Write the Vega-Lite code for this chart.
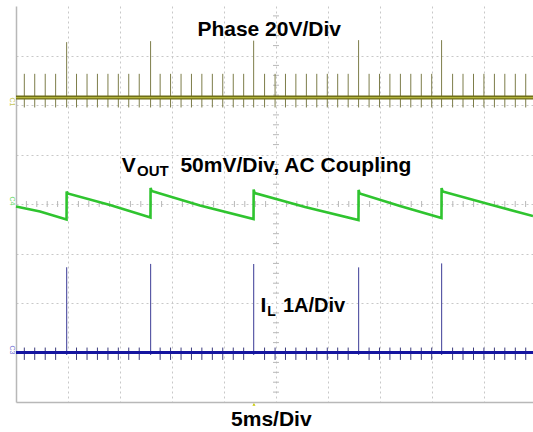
{
  "$schema": "https://vega.github.io/schema/vega-lite/v6.json",
  "width": 517,
  "height": 396,
  "autosize": {"type": "none"},
  "padding": {"left": 16, "top": 6, "right": 0, "bottom": 30},
  "background": "white",
  "config": {"view": {"stroke": null}},
  "datasets": {
    "hticks": [
      {"t":1,"v":4},{"t":2,"v":4},{"t":3,"v":4},{"t":4,"v":4},{"t":6,"v":4},{"t":7,"v":4},{"t":8,"v":4},{"t":9,"v":4},
      {"t":11,"v":4},{"t":12,"v":4},{"t":13,"v":4},{"t":14,"v":4},{"t":16,"v":4},{"t":17,"v":4},{"t":18,"v":4},{"t":19,"v":4},
      {"t":21,"v":4},{"t":22,"v":4},{"t":23,"v":4},{"t":24,"v":4},{"t":26,"v":4},{"t":27,"v":4},{"t":28,"v":4},{"t":29,"v":4},
      {"t":31,"v":4},{"t":32,"v":4},{"t":33,"v":4},{"t":34,"v":4},{"t":36,"v":4},{"t":37,"v":4},{"t":38,"v":4},{"t":39,"v":4},
      {"t":41,"v":4},{"t":42,"v":4},{"t":43,"v":4},{"t":44,"v":4},{"t":46,"v":4},{"t":47,"v":4},{"t":48,"v":4},{"t":49,"v":4}
    ],
    "vticks": [
      {"t":25,"v":0.2},{"t":25,"v":0.4},{"t":25,"v":0.6},{"t":25,"v":0.8},{"t":25,"v":1.2},{"t":25,"v":1.4},{"t":25,"v":1.6},{"t":25,"v":1.8},
      {"t":25,"v":2.2},{"t":25,"v":2.4},{"t":25,"v":2.6},{"t":25,"v":2.8},{"t":25,"v":3.2},{"t":25,"v":3.4},{"t":25,"v":3.6},{"t":25,"v":3.8},
      {"t":25,"v":4.2},{"t":25,"v":4.4},{"t":25,"v":4.6},{"t":25,"v":4.8},{"t":25,"v":5.2},{"t":25,"v":5.4},{"t":25,"v":5.6},{"t":25,"v":5.8},
      {"t":25,"v":6.2},{"t":25,"v":6.4},{"t":25,"v":6.6},{"t":25,"v":6.8},{"t":25,"v":7.2},{"t":25,"v":7.4},{"t":25,"v":7.6},{"t":25,"v":7.8}
    ],
    "spikes": [
      {"t":0.80,"phase_lo":5.95,"phase_hi":6.63,"il_lo":0.85,"il_hi":1.10},
      {"t":1.80,"phase_lo":5.95,"phase_hi":6.63,"il_lo":0.85,"il_hi":1.10},
      {"t":2.81,"phase_lo":5.95,"phase_hi":6.63,"il_lo":0.85,"il_hi":1.10},
      {"t":3.81,"phase_lo":5.95,"phase_hi":6.63,"il_lo":0.85,"il_hi":1.10},
      {"t":5.82,"phase_lo":5.95,"phase_hi":6.63,"il_lo":0.85,"il_hi":1.10},
      {"t":6.83,"phase_lo":5.95,"phase_hi":6.63,"il_lo":0.85,"il_hi":1.10},
      {"t":7.83,"phase_lo":5.95,"phase_hi":6.63,"il_lo":0.85,"il_hi":1.10},
      {"t":8.84,"phase_lo":5.95,"phase_hi":6.63,"il_lo":0.85,"il_hi":1.10},
      {"t":9.84,"phase_lo":5.95,"phase_hi":6.63,"il_lo":0.85,"il_hi":1.10},
      {"t":10.84,"phase_lo":5.95,"phase_hi":6.63,"il_lo":0.85,"il_hi":1.10},
      {"t":11.85,"phase_lo":5.95,"phase_hi":6.63,"il_lo":0.85,"il_hi":1.10},
      {"t":13.86,"phase_lo":5.95,"phase_hi":6.63,"il_lo":0.85,"il_hi":1.10},
      {"t":14.86,"phase_lo":5.95,"phase_hi":6.63,"il_lo":0.85,"il_hi":1.10},
      {"t":15.87,"phase_lo":5.95,"phase_hi":6.63,"il_lo":0.85,"il_hi":1.10},
      {"t":16.87,"phase_lo":5.95,"phase_hi":6.63,"il_lo":0.85,"il_hi":1.10},
      {"t":17.87,"phase_lo":5.95,"phase_hi":6.63,"il_lo":0.85,"il_hi":1.10},
      {"t":18.88,"phase_lo":5.95,"phase_hi":6.63,"il_lo":0.85,"il_hi":1.10},
      {"t":19.88,"phase_lo":5.95,"phase_hi":6.63,"il_lo":0.85,"il_hi":1.10},
      {"t":20.89,"phase_lo":5.95,"phase_hi":6.63,"il_lo":0.85,"il_hi":1.10},
      {"t":21.89,"phase_lo":5.95,"phase_hi":6.63,"il_lo":0.85,"il_hi":1.10},
      {"t":23.90,"phase_lo":5.95,"phase_hi":6.63,"il_lo":0.85,"il_hi":1.10},
      {"t":24.91,"phase_lo":5.95,"phase_hi":6.63,"il_lo":0.85,"il_hi":1.10},
      {"t":25.91,"phase_lo":5.95,"phase_hi":6.63,"il_lo":0.85,"il_hi":1.10},
      {"t":26.91,"phase_lo":5.95,"phase_hi":6.63,"il_lo":0.85,"il_hi":1.10},
      {"t":27.92,"phase_lo":5.95,"phase_hi":6.63,"il_lo":0.85,"il_hi":1.10},
      {"t":28.92,"phase_lo":5.95,"phase_hi":6.63,"il_lo":0.85,"il_hi":1.10},
      {"t":29.93,"phase_lo":5.95,"phase_hi":6.63,"il_lo":0.85,"il_hi":1.10},
      {"t":30.93,"phase_lo":5.95,"phase_hi":6.63,"il_lo":0.85,"il_hi":1.10},
      {"t":31.94,"phase_lo":5.95,"phase_hi":6.63,"il_lo":0.85,"il_hi":1.10},
      {"t":33.95,"phase_lo":5.95,"phase_hi":6.63,"il_lo":0.85,"il_hi":1.10},
      {"t":34.95,"phase_lo":5.95,"phase_hi":6.63,"il_lo":0.85,"il_hi":1.10},
      {"t":35.95,"phase_lo":5.95,"phase_hi":6.63,"il_lo":0.85,"il_hi":1.10},
      {"t":36.96,"phase_lo":5.95,"phase_hi":6.63,"il_lo":0.85,"il_hi":1.10},
      {"t":37.96,"phase_lo":5.95,"phase_hi":6.63,"il_lo":0.85,"il_hi":1.10},
      {"t":38.97,"phase_lo":5.95,"phase_hi":6.63,"il_lo":0.85,"il_hi":1.10},
      {"t":39.97,"phase_lo":5.95,"phase_hi":6.63,"il_lo":0.85,"il_hi":1.10},
      {"t":41.98,"phase_lo":5.95,"phase_hi":6.63,"il_lo":0.85,"il_hi":1.10},
      {"t":42.98,"phase_lo":5.95,"phase_hi":6.63,"il_lo":0.85,"il_hi":1.10},
      {"t":43.99,"phase_lo":5.95,"phase_hi":6.63,"il_lo":0.85,"il_hi":1.10},
      {"t":44.99,"phase_lo":5.95,"phase_hi":6.63,"il_lo":0.85,"il_hi":1.10},
      {"t":46.00,"phase_lo":5.95,"phase_hi":6.63,"il_lo":0.85,"il_hi":1.10},
      {"t":47.00,"phase_lo":5.95,"phase_hi":6.63,"il_lo":0.85,"il_hi":1.10},
      {"t":48.01,"phase_lo":5.95,"phase_hi":6.63,"il_lo":0.85,"il_hi":1.10},
      {"t":49.01,"phase_lo":5.95,"phase_hi":6.63,"il_lo":0.85,"il_hi":1.10}
    ],
    "bigspikes": [
      {"t":4.87,"phase_lo":5.95,"phase_hi":7.27,"il_lo":0.95,"il_hi":2.72},
      {"t":12.94,"phase_lo":5.95,"phase_hi":7.29,"il_lo":0.95,"il_hi":2.79},
      {"t":22.85,"phase_lo":5.95,"phase_hi":7.30,"il_lo":0.95,"il_hi":2.79},
      {"t":32.94,"phase_lo":5.95,"phase_hi":7.31,"il_lo":0.95,"il_hi":2.72},
      {"t":40.92,"phase_lo":5.95,"phase_hi":7.31,"il_lo":0.95,"il_hi":2.80}
    ],
    "phase_base": [{"t":0,"v":6.15},{"t":49.71,"v":6.15}],
    "il_base": [{"t":0,"v":1.0},{"t":49.71,"v":1.0}],
    "vout": [
      {"t":0,"v":3.949},{"t":2.31,"v":3.848},{"t":4.86,"v":3.687},
      {"t":4.87,"v":4.253},{"t":4.97,"v":4.212},{"t":9.04,"v":3.980},{"t":12.93,"v":3.727},
      {"t":12.94,"v":4.323},{"t":13.04,"v":4.263},{"t":17.69,"v":3.970},{"t":22.84,"v":3.697},
      {"t":22.85,"v":4.293},{"t":22.95,"v":4.222},{"t":27.79,"v":3.939},{"t":32.93,"v":3.677},
      {"t":32.94,"v":4.283},{"t":33.04,"v":4.212},{"t":36.92,"v":3.960},{"t":40.91,"v":3.717},
      {"t":40.92,"v":4.323},{"t":41.02,"v":4.253},{"t":45.58,"v":3.990},{"t":49.71,"v":3.758}
    ]
  },
  "layer": [
    {
      "data": {"name": "hticks"},
      "mark": {"type": "point", "shape": "M0,-1V1", "size": 36, "filled": false, "stroke": "#b8b8b8", "strokeWidth": 1, "opacity": 1},
      "encoding": {
        "x": {"field": "t", "type": "quantitative", "scale": {"domain": [0, 49.71], "nice": false, "zero": false},
              "axis": {"title": null, "labels": false, "ticks": false, "domain": true, "domainColor": "#b8b8b8", "domainWidth": 1.5,
                       "grid": true, "gridColor": "#c8c8c8", "gridDash": [2, 3], "gridWidth": 1,
                       "values": [5, 10, 15, 20, 25, 30, 35, 40, 45]}},
        "y": {"field": "v", "type": "quantitative", "scale": {"domain": [0, 8], "nice": false, "zero": false},
              "axis": {"title": null, "labels": false, "ticks": false, "domain": true, "domainColor": "#b8b8b8", "domainWidth": 1.5,
                       "grid": true, "gridColor": "#c8c8c8", "gridDash": [2, 3], "gridWidth": 1,
                       "values": [1, 2, 3, 4, 5, 6, 7]}}
      }
    },
    {
      "data": {"name": "vticks"},
      "mark": {"type": "point", "shape": "M-1,0H1", "size": 36, "filled": false, "stroke": "#b8b8b8", "strokeWidth": 1, "opacity": 1},
      "encoding": {
        "x": {"field": "t", "type": "quantitative"},
        "y": {"field": "v", "type": "quantitative"}
      }
    },
    {
      "mark": {"type": "rule", "color": "#b8b8b8", "strokeWidth": 1.5},
      "encoding": {"y": {"datum": 8}}
    },
    {
      "mark": {"type": "rule", "color": "#cfcfcf", "strokeWidth": 1, "strokeDash": [1, 9]},
      "encoding": {"y": {"datum": 1.475}}
    },
    {
      "data": {"name": "spikes"},
      "mark": {"type": "rule", "color": "#7d7d4a", "strokeWidth": 1},
      "encoding": {
        "x": {"field": "t", "type": "quantitative"},
        "y": {"field": "phase_lo", "type": "quantitative"},
        "y2": {"field": "phase_hi"}
      }
    },
    {
      "data": {"name": "bigspikes"},
      "mark": {"type": "rule", "color": "#7d7d4a", "strokeWidth": 1},
      "encoding": {
        "x": {"field": "t", "type": "quantitative"},
        "y": {"field": "phase_lo", "type": "quantitative"},
        "y2": {"field": "phase_hi"}
      }
    },
    {
      "data": {"name": "phase_base"},
      "mark": {"type": "line", "color": "#6e6e18", "strokeWidth": 4},
      "encoding": {
        "x": {"field": "t", "type": "quantitative"},
        "y": {"field": "v", "type": "quantitative"}
      }
    },
    {
      "data": {"name": "phase_base"},
      "mark": {"type": "line", "color": "#b4b43c", "strokeWidth": 1.2},
      "encoding": {
        "x": {"field": "t", "type": "quantitative"},
        "y": {"field": "v", "type": "quantitative"}
      }
    },
    {
      "data": {"name": "spikes"},
      "mark": {"type": "rule", "color": "#3c3c7c", "strokeWidth": 1},
      "encoding": {
        "x": {"field": "t", "type": "quantitative"},
        "y": {"field": "il_lo", "type": "quantitative"},
        "y2": {"field": "il_hi"}
      }
    },
    {
      "data": {"name": "bigspikes"},
      "mark": {"type": "rule", "color": "#5a5aa6", "strokeWidth": 1.2},
      "encoding": {
        "x": {"field": "t", "type": "quantitative"},
        "y": {"field": "il_lo", "type": "quantitative"},
        "y2": {"field": "il_hi"}
      }
    },
    {
      "data": {"name": "il_base"},
      "mark": {"type": "line", "color": "#1414a0", "strokeWidth": 3},
      "encoding": {
        "x": {"field": "t", "type": "quantitative"},
        "y": {"field": "v", "type": "quantitative"}
      }
    },
    {
      "data": {"name": "vout"},
      "mark": {"type": "line", "color": "#2fc42f", "strokeWidth": 2.6},
      "encoding": {
        "x": {"field": "t", "type": "quantitative"},
        "y": {"field": "v", "type": "quantitative"}
      }
    },
    {
      "data": {"values": [
        {"label": "Phase 20V/Div", "t": 17.44, "v": 7.404},
        {"label": "V", "t": 10.16, "v": 4.646},
        {"label": "50mV/Div, AC Coupling", "t": 15.81, "v": 4.646},
        {"label": "I", "t": 23.50, "v": 1.824},
        {"label": "5ms/Div", "t": 20.68, "v": -0.479}
      ]},
      "mark": {"type": "text", "font": "Liberation Sans", "fontWeight": "bold", "fontSize": 21, "align": "left", "baseline": "alphabetic", "color": "#000000"},
      "encoding": {
        "x": {"field": "t", "type": "quantitative"},
        "y": {"field": "v", "type": "quantitative"},
        "text": {"field": "label"}
      }
    },
    {
      "data": {"values": [{"label": "OUT", "t": 11.64, "v": 4.566}]},
      "mark": {"type": "text", "font": "Liberation Sans", "fontWeight": "bold", "fontSize": 15, "align": "left", "baseline": "alphabetic", "color": "#000000"},
      "encoding": {
        "x": {"field": "t", "type": "quantitative"},
        "y": {"field": "v", "type": "quantitative"},
        "text": {"field": "label"}
      }
    },
    {
      "data": {"values": [{"label": "L", "t": 24.16, "v": 1.743}]},
      "mark": {"type": "text", "font": "Liberation Sans", "fontWeight": "bold", "fontSize": 14, "align": "left", "baseline": "alphabetic", "color": "#000000"},
      "encoding": {
        "x": {"field": "t", "type": "quantitative"},
        "y": {"field": "v", "type": "quantitative"},
        "text": {"field": "label"}
      }
    },
    {
      "data": {"values": [{"label": "1A/Div", "t": 25.67, "v": 1.824}]},
      "mark": {"type": "text", "font": "Liberation Sans", "fontWeight": "bold", "fontSize": 20, "align": "left", "baseline": "alphabetic", "color": "#000000"},
      "encoding": {
        "x": {"field": "t", "type": "quantitative"},
        "y": {"field": "v", "type": "quantitative"},
        "text": {"field": "label"}
      }
    },
    {
      "data": {"values": [
        {"label": "C1", "t": -0.38, "v": 6.06, "ch": "phase"},
        {"label": "C4", "t": -0.38, "v": 4.06, "ch": "vout"},
        {"label": "C3", "t": -0.38, "v": 1.05, "ch": "il"}
      ]},
      "mark": {"type": "text", "font": "Liberation Sans", "fontSize": 7, "angle": 90, "align": "center", "baseline": "middle"},
      "encoding": {
        "x": {"field": "t", "type": "quantitative"},
        "y": {"field": "v", "type": "quantitative"},
        "text": {"field": "label"},
        "color": {"field": "ch", "type": "nominal", "legend": null,
                  "scale": {"domain": ["phase", "vout", "il"], "range": ["#c4c45a", "#66d866", "#7474d4"]}}
      }
    },
    {
      "data": {"values": [{"t": 22.88, "v": -0.05}]},
      "mark": {"type": "point", "shape": "triangle-up", "size": 10, "filled": true, "color": "#c8c800", "opacity": 1},
      "encoding": {
        "x": {"field": "t", "type": "quantitative"},
        "y": {"field": "v", "type": "quantitative"}
      }
    }
  ]
}
